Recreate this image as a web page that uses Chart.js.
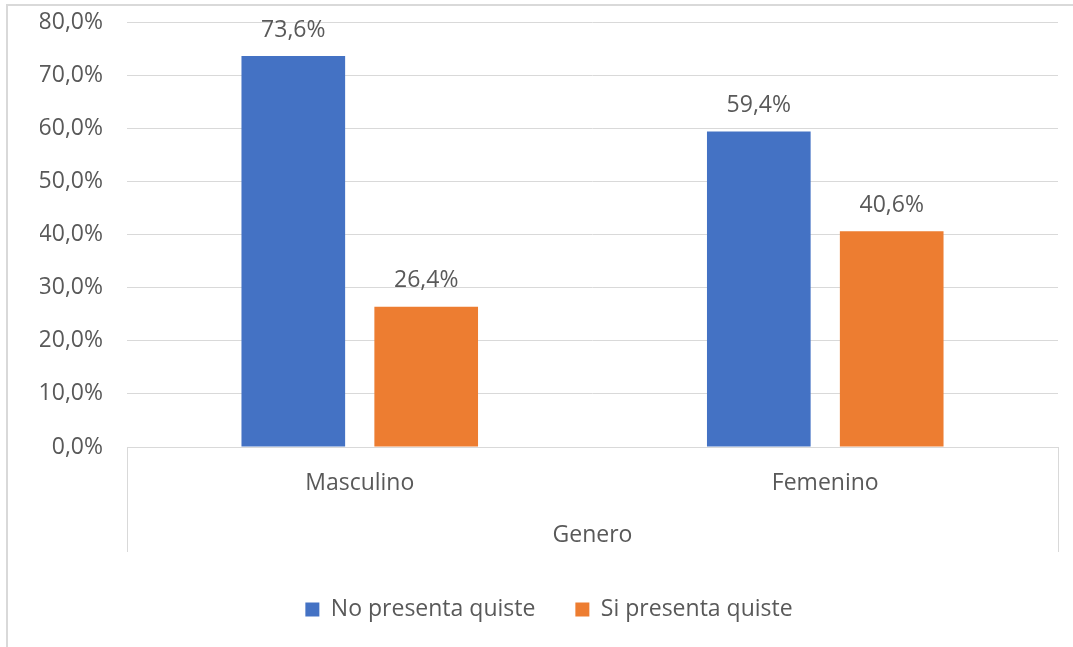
<!DOCTYPE html>
<html>
<head>
<meta charset="utf-8">
<script src="https://cdn.jsdelivr.net/npm/chart.js@4/dist/chart.umd.min.js"></script>
<style>
  html, body { margin: 0; padding: 0; background: #fff; }
  #wrap { position: relative; width: 1073px; height: 647px; overflow: hidden; }
  #frame { position: absolute; left: 6px; top: 4px; width: 1100px; height: 700px;
           border-left: 2px solid #D9D9D9; border-top: 2px solid #D9D9D9; pointer-events: none; }
  canvas { position: absolute; left: 0; top: 0; }
</style>
</head>
<body>
<div id="wrap">
  <canvas id="chart" width="1073" height="647"></canvas>
  <div id="frame"></div>
</div>
<script>
// Categories, series and axis ticks
const categories = ['Masculino', 'Femenino'];
const axisTitle = 'Genero';
const seriesNames = ['No presenta quiste', 'Si presenta quiste'];
const noPresenta = [73.6, 59.4];
const siPresenta = [26.4, 40.6];
const yTicks = [0, 10, 20, 30, 40, 50, 60, 70, 80];

const TEXT = '#595959';
const GRID = '#D9D9D9';
const FONT = { family: "'Open Sans', 'Liberation Sans', sans-serif", size: 23 };

const pct = v => Number(v).toFixed(1).replace('.', ',') + '%';

// Value labels above each bar
const valueLabels = {
  id: 'valueLabels',
  afterDatasetsDraw(chart) {
    const ctx = chart.ctx;
    ctx.save();
    ctx.font = `${FONT.size}px ${FONT.family}`;
    ctx.fillStyle = TEXT;
    ctx.textAlign = 'center';
    ctx.textBaseline = 'middle';
    chart.data.datasets.forEach((ds, i) => {
      chart.getDatasetMeta(i).data.forEach((bar, j) => {
        ctx.fillText(pct(ds.data[j]), bar.x, bar.y - 26);
      });
    });
    ctx.restore();
  }
};

// Category-axis frame and the group title under the labels
const categoryFrame = {
  id: 'categoryFrame',
  afterDraw(chart) {
    const { ctx, chartArea } = chart;
    const depth = 105;
    ctx.save();
    ctx.strokeStyle = GRID;
    ctx.lineWidth = 1;
    ctx.beginPath();
    [chartArea.left, chartArea.right].forEach(x => {
      const px = Math.round(x) + 0.5;
      ctx.moveTo(px, chartArea.bottom);
      ctx.lineTo(px, chartArea.bottom + depth);
    });
    ctx.stroke();
    ctx.font = `${FONT.size}px ${FONT.family}`;
    ctx.fillStyle = TEXT;
    ctx.textAlign = 'center';
    ctx.textBaseline = 'middle';
    ctx.fillText(axisTitle, (chartArea.left + chartArea.right) / 2, chartArea.bottom + 88);
    ctx.restore();
  }
};

new Chart(document.getElementById('chart'), {
  type: 'bar',
  data: {
    labels: categories,
    datasets: [
      { label: seriesNames[0], data: noPresenta, backgroundColor: '#4472C4' },
      { label: seriesNames[1], data: siPresenta, backgroundColor: '#ED7D31' }
    ]
  },
  options: {
    responsive: false,
    animation: false,
    devicePixelRatio: 1,
    layout: { padding: { left: 40, right: 15, top: 22, bottom: 16 } },
    datasets: { bar: { categoryPercentage: 0.571, barPercentage: 0.78 } },
    scales: {
      x: {
        grid: { display: false, drawTicks: false },
        border: { display: true, color: GRID, width: 1 },
        ticks: { color: TEXT, font: FONT, padding: 23 },
        afterFit(scale) { scale.height = 111; }
      },
      y: {
        min: 0, max: 80,
        afterBuildTicks(scale) { scale.ticks = yTicks.map(v => ({ value: v })); },
        grid: { color: GRID, lineWidth: 1, drawTicks: false },
        border: { display: false },
        ticks: { color: TEXT, font: FONT, padding: 24, callback: v => pct(v) },
        afterFit(scale) {
          scale.width = 87;
          scale.paddingTop = 0;
          scale.paddingBottom = 0;
        }
      }
    },
    plugins: {
      legend: {
        position: 'bottom',
        labels: { color: TEXT, font: FONT, boxWidth: 14, boxHeight: 14, padding: 40 }
      },
      tooltip: { enabled: false }
    }
  },
  plugins: [valueLabels, categoryFrame]
});
</script>
</body>
</html>
